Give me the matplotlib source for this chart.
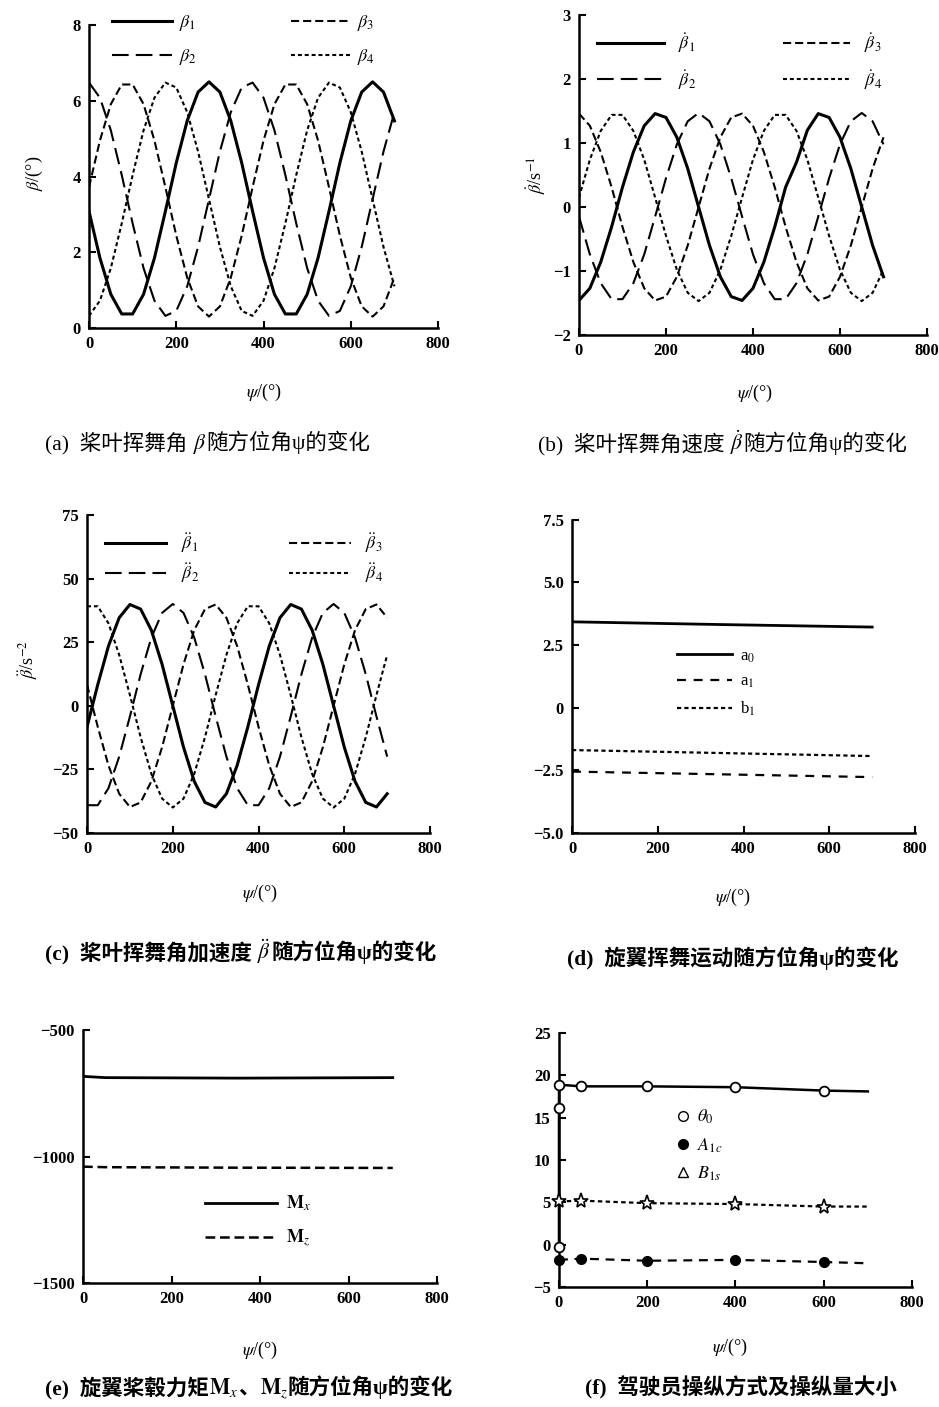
import matplotlib
matplotlib.use('Agg')
import matplotlib.pyplot as plt
from matplotlib.lines import Line2D

plt.rcParams['font.family'] = ['Liberation Serif', 'Noto Sans CJK SC']
plt.rcParams['mathtext.fontset'] = 'stix'
plt.rcParams['axes.unicode_minus'] = True

# azimuth samples, deg
psi = [0, 25, 50, 75, 100, 125, 150, 175, 200, 225, 250, 275, 300, 325, 350,
       375, 400, 425, 450, 475, 500, 525, 550, 575, 600, 625, 650, 675, 700]

# (a) flapping angle, deg
beta1 = [3.08, 1.85, 0.89, 0.37, 0.37, 0.89, 1.85, 3.08, 4.36, 5.47, 6.23, 6.50, 6.23, 5.47, 4.36,
         3.08, 1.85, 0.89, 0.37, 0.37, 0.89, 1.85, 3.08, 4.36, 5.47, 6.23, 6.50, 6.23, 5.47]
beta2 = [6.48, 6.08, 5.22, 4.04, 2.76, 1.58, 0.72, 0.32, 0.45, 1.10, 2.14, 3.40, 4.66, 5.70, 6.35,
         6.48, 6.08, 5.22, 4.04, 2.76, 1.58, 0.72, 0.32, 0.45, 1.10, 2.14, 3.40, 4.66, 5.70]
beta3 = [3.72, 4.95, 5.91, 6.43, 6.43, 5.91, 4.95, 3.72, 2.44, 1.33, 0.57, 0.30, 0.57, 1.33, 2.44,
         3.72, 4.95, 5.91, 6.43, 6.43, 5.91, 4.95, 3.72, 2.44, 1.33, 0.57, 0.30, 0.57, 1.33]
beta4 = [0.32, 0.72, 1.58, 2.76, 4.04, 5.22, 6.08, 6.48, 6.35, 5.70, 4.66, 3.40, 2.14, 1.10, 0.45,
         0.32, 0.72, 1.58, 2.76, 4.04, 5.22, 6.08, 6.48, 6.35, 5.70, 4.66, 3.40, 2.14, 1.10]

# (b) flapping rate, 1/s
dbeta1 = [-1.46, -1.27, -0.86, -0.31, 0.31, 0.86, 1.27, 1.46, 1.40, 1.09, 0.60, 0.00, -0.60, -1.09, -1.40,
          -1.46, -1.27, -0.86, -0.31, 0.31, 0.70, 1.20, 1.46, 1.40, 1.09, 0.60, 0.00, -0.60, -1.09]
dbeta2 = [-0.15, -0.74, -1.19, -1.44, -1.44, -1.19, -0.74, -0.15, 0.45, 0.98, 1.34, 1.47, 1.34, 0.98, 0.45,
          -0.15, -0.74, -1.19, -1.44, -1.44, -1.19, -0.74, -0.15, 0.45, 0.98, 1.34, 1.47, 1.34, 0.98]
dbeta3 = [1.46, 1.27, 0.86, 0.31, -0.31, -0.86, -1.27, -1.46, -1.40, -1.09, -0.60, 0.00, 0.60, 1.09, 1.40,
          1.46, 1.27, 0.86, 0.31, -0.31, -0.86, -1.27, -1.46, -1.40, -1.09, -0.60, 0.00, 0.60, 1.09]
dbeta4 = [0.15, 0.74, 1.19, 1.44, 1.44, 1.19, 0.74, 0.15, -0.45, -0.98, -1.34, -1.47, -1.34, -0.98, -0.45,
          0.15, 0.74, 1.19, 1.44, 1.44, 1.19, 0.74, 0.15, -0.45, -0.98, -1.34, -1.47, -1.34, -0.98]

# (c) flapping acceleration, 1/s^2
ddbeta1 = [-8.3, 8.3, 23.5, 34.6, 39.8, 38.0, 29.7, 16.3, 0.0, -16.3, -29.7, -38.0, -39.8, -34.6, -23.5,
           -8.3, 8.3, 23.5, 34.6, 39.8, 38.0, 29.7, 16.3, 0.0, -16.3, -29.7, -38.0, -39.8, -34.6]
ddbeta2 = [-39.1, -39.1, -32.4, -20.0, -4.2, 12.4, 26.8, 36.5, 40.0, 36.5, 26.8, 12.4, -4.2, -20.0, -32.4,
           -39.1, -39.1, -32.4, -20.0, -4.2, 12.4, 26.8, 36.5, 40.0, 36.5, 26.8, 12.4, -4.2, -20.0]
ddbeta3 = [8.3, -8.3, -23.5, -34.6, -39.8, -38.0, -29.7, -16.3, 0.0, 16.3, 29.7, 38.0, 39.8, 34.6, 23.5,
           8.3, -8.3, -23.5, -34.6, -39.8, -38.0, -29.7, -16.3, 0.0, 16.3, 29.7, 38.0, 39.8, 34.6]
ddbeta4 = [39.1, 39.1, 32.4, 20.0, 4.2, -12.4, -26.8, -36.5, -40.0, -36.5, -26.8, -12.4, 4.2, 20.0, 32.4,
           39.1, 39.1, 32.4, 20.0, 4.2, -12.4, -26.8, -36.5, -40.0, -36.5, -26.8, -12.4, 4.2, 20.0]

# (d) flapping coefficients
psi_d = [0, 350, 700]
a0 = [3.43, 3.32, 3.22]
a1 = [-2.55, -2.66, -2.77]
b1 = [-1.69, -1.81, -1.93]

# (e) hub moments
psi_e = [0, 50, 350, 700]
mx = [-683, -688, -690, -688]
mz = [-1040, -1042, -1044, -1045]

# (f) pilot controls
psi_t0 = [0, 0, 0, 50, 200, 400, 600, 700]
theta0 = [-0.3, 16.1, 18.9, 18.7, 18.7, 18.6, 18.2, 18.1]
psi_c = [0, 50, 200, 400, 600, 700]
a1c = [-1.8, -1.65, -1.9, -1.8, -2.05, -2.2]
b1s = [5.1, 5.2, 4.9, 4.8, 4.5, 4.5]

LONG = (0, (8, 3.4))
MED = (0, (3.9, 1.9))
SHORT = (0, (1.9, 1.4))

fig = plt.figure(figsize=(9.39, 14.07), dpi=100)
renderer = fig.canvas.get_renderer()


def setup(rect, yticks, yticklabels=None):
    ax = fig.add_axes(rect)
    for s in ['top', 'right']:
        ax.spines[s].set_visible(False)
    for s in ['left', 'bottom']:
        ax.spines[s].set_linewidth(1.8)
    ax.set_xlim(0, 800)
    ax.set_ylim(yticks[0], yticks[-1])
    ax.set_xticks([0, 200, 400, 600, 800])
    ax.set_yticks(yticks)
    if yticklabels is not None:
        ax.set_yticklabels(yticklabels)
    ax.tick_params(direction='in', length=5, width=1.5, labelsize=12, pad=6)
    for t in ax.get_xticklabels() + ax.get_yticklabels():
        t.set_fontweight('bold')
    return ax


def xlab(ax, x, y):
    ax.set_xlabel(r'$\psi$/(°)', fontsize=13)
    ax.xaxis.set_label_coords(x, y)


def caption(x, y, parts, bold=False):
    # text pieces side by side, so CJK runs stay out of mathtext
    for s in parts:
        t = fig.text(x / 939, 1 - y / 1407, s, fontsize=15.5, ha='left', va='baseline',
                     fontweight='bold' if bold else 'normal')
        x += t.get_window_extent(renderer).width


# (a)
ax = setup([0.0948, 0.7669, 0.3717, 0.2153], [0, 2, 4, 6, 8])
l1, = ax.plot(psi, beta1, 'k-', lw=2.2)
l2, = ax.plot(psi, beta2, 'k', ls=LONG, lw=1.5)
l3, = ax.plot(psi, beta3, 'k', ls=MED, lw=1.5)
l4, = ax.plot(psi, beta4, 'k', ls=SHORT, lw=1.5)
ax.legend([l1, l2, l3, l4], [r'$\beta_1$', r'$\beta_2$', r'$\beta_3$', r'$\beta_4$'],
          ncol=2, loc='upper left', bbox_to_anchor=(0.066, 1.04), frameon=False,
          fontsize=13, handlelength=3.3, handletextpad=0.4, columnspacing=5.2,
          labelspacing=0.8, borderpad=0, borderaxespad=0)
ax.set_ylabel(r'$\beta$/(°)', fontsize=13)
ax.yaxis.set_label_coords(-0.126, 0.51)
xlab(ax, 0.5, -0.178)
caption(45, 449, ['(a)  桨叶挥舞角 ', r'$\beta$', '随方位角ψ的变化'])

# (b)
ax = setup([0.6166, 0.7619, 0.3706, 0.2274], [-2, -1, 0, 1, 2, 3])
l1, = ax.plot(psi, dbeta1, 'k-', lw=2.2)
l2, = ax.plot(psi, dbeta2, 'k', ls=LONG, lw=1.5)
l3, = ax.plot(psi, dbeta3, 'k', ls=MED, lw=1.5)
l4, = ax.plot(psi, dbeta4, 'k', ls=SHORT, lw=1.5)
ax.legend([l1, l2, l3, l4], [r'$\dot{\beta}_1$', r'$\dot{\beta}_2$', r'$\dot{\beta}_3$', r'$\dot{\beta}_4$'],
          ncol=2, loc='upper left', bbox_to_anchor=(0.052, 0.95), frameon=False,
          fontsize=13, handlelength=3.7, handletextpad=0.8, columnspacing=4.8,
          labelspacing=0.7, borderpad=0, borderaxespad=0)
ax.set_ylabel(r'$\dot{\beta}$/s$^{-1}$', fontsize=13)
ax.yaxis.set_label_coords(-0.089, 0.5)
xlab(ax, 0.506, -0.15)
caption(538, 450, ['(b)  桨叶挥舞角速度 ', r'$\dot{\beta}$', '随方位角ψ的变化'])

# (c)
ax = setup([0.0927, 0.4080, 0.3653, 0.2260], [-50, -25, 0, 25, 50, 75])
l1, = ax.plot(psi, ddbeta1, 'k-', lw=2.2)
l2, = ax.plot(psi, ddbeta2, 'k', ls=LONG, lw=1.5)
l3, = ax.plot(psi, ddbeta3, 'k', ls=MED, lw=1.5)
l4, = ax.plot(psi, ddbeta4, 'k', ls=SHORT, lw=1.5)
ax.legend([l1, l2, l3, l4], [r'$\ddot{\beta}_1$', r'$\ddot{\beta}_2$', r'$\ddot{\beta}_3$', r'$\ddot{\beta}_4$'],
          ncol=2, loc='upper left', bbox_to_anchor=(0.052, 0.95), frameon=False,
          fontsize=13, handlelength=3.4, handletextpad=0.8, columnspacing=5.0,
          labelspacing=0.35, borderpad=0, borderaxespad=0)
ax.set_ylabel(r'$\ddot{\beta}$/s$^{-2}$', fontsize=13)
ax.yaxis.set_label_coords(-0.137, 0.544)
xlab(ax, 0.504, -0.157)
caption(45, 959, ['(c)  桨叶挥舞角加速度 ', r'$\ddot{\beta}$', '随方位角ψ的变化'], bold=True)

# (d)
ax = setup([0.6092, 0.4080, 0.3653, 0.2225], [-5, -2.5, 0, 2.5, 5, 7.5],
           ['−5.0', '−2.5', '0', '2.5', '5.0', '7.5'])
l1, = ax.plot(psi_d, a0, 'k-', lw=2.0)
l2, = ax.plot(psi_d, a1, 'k', ls=(0, (4, 3.5)), lw=1.6)
l3, = ax.plot(psi_d, b1, 'k', ls=SHORT, lw=1.6)
ax.legend([l1, l2, l3], [r'a$_0$', r'a$_1$', r'b$_1$'], loc='upper left',
          bbox_to_anchor=(0.306, 0.59), frameon=False, fontsize=12,
          handlelength=3.3, handletextpad=0.5, labelspacing=0.55,
          borderpad=0, borderaxespad=0)
xlab(ax, 0.47, -0.173)
caption(567, 965, ['(d)  旋翼挥舞运动随方位角ψ的变化'], bold=True)

# (e)
ax = setup([0.0884, 0.0881, 0.3770, 0.1798], [-1500, -1000, -500])
l1, = ax.plot(psi_e, mx, 'k-', lw=2.0)
l2, = ax.plot(psi_e, mz, 'k', ls=MED, lw=1.8)
ax.legend([l1, l2], [r'$\mathbf{M}_x$', r'$\mathbf{M}_z$'], loc='upper left',
          bbox_to_anchor=(0.345, 0.352), frameon=False, fontsize=13,
          handlelength=4.0, handletextpad=0.5, labelspacing=0.8,
          borderpad=0, borderaxespad=0)
xlab(ax, 0.5, -0.225)
caption(45, 1394, ['(e)  旋翼桨毂力矩', r'$\mathbf{M}_x$', '、', r'$\mathbf{M}_z$', '随方位角ψ的变化'],
        bold=True)

# (f)
ax = setup([0.5953, 0.0853, 0.3759, 0.1805], [-5, 0, 5, 10, 15, 20, 25])
ax.plot(psi_t0, theta0, 'k-', lw=1.8, marker='o', ms=7, mfc='white', mec='k',
        mew=1.3, markevery=[0, 1, 2, 3, 4, 5, 6], clip_on=False, zorder=3)
ax.plot(psi_c, a1c, 'k', ls=(0, (4, 3)), lw=1.6, marker='o', ms=7, mfc='k', mec='k',
        markevery=[0, 1, 2, 3, 4], clip_on=False, zorder=3)
ax.plot(psi_c, b1s, 'k', ls=(0, (2, 1.5)), lw=1.6, marker='*', ms=11, mfc='white', mec='k',
        mew=1.2, markevery=[0, 1, 2, 3, 4], clip_on=False, zorder=3)
handles = [Line2D([], [], ls='none', marker='o', ms=7, mfc='white', mec='k'),
           Line2D([], [], ls='none', marker='o', ms=7, mfc='k', mec='k'),
           Line2D([], [], ls='none', marker='^', ms=7, mfc='white', mec='k')]
ax.legend(handles, [r'$\theta_0$', r'$A_{1c}$', r'$B_{1s}$'], loc='upper left',
          bbox_to_anchor=(0.33, 0.705), frameon=False, fontsize=13,
          handlelength=0.8, handletextpad=0.4, labelspacing=0.55,
          borderpad=0, borderaxespad=0)
xlab(ax, 0.484, -0.197)
caption(585, 1394, ['(f)  驾驶员操纵方式及操纵量大小'], bold=True)

fig.savefig('out.png', dpi=100, facecolor='white')
